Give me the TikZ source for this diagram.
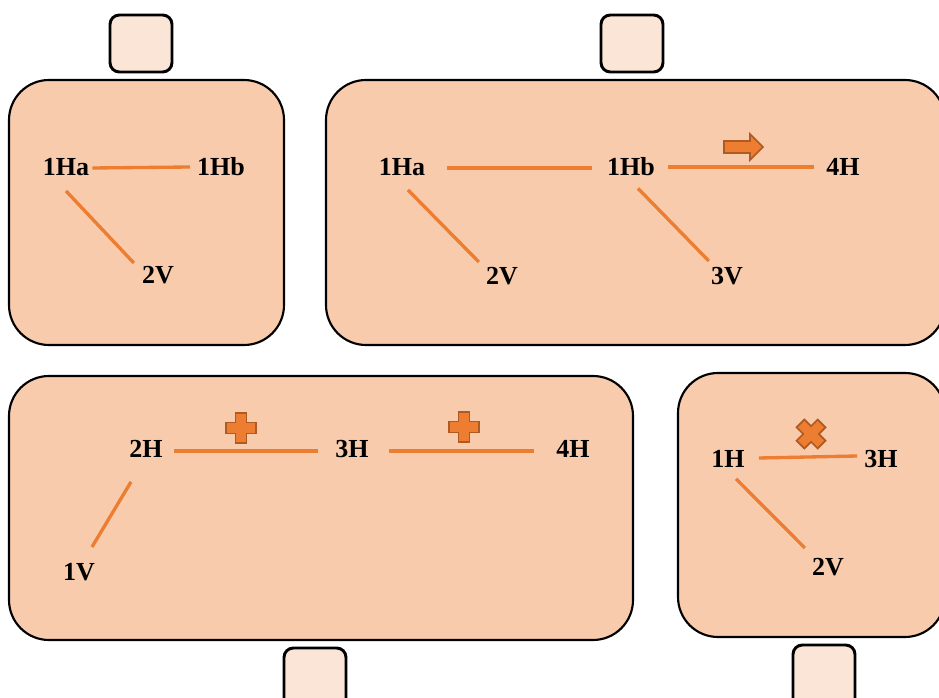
\documentclass[tikz,border=0pt]{standalone}
\usepackage{fontspec}
\setmainfont{Liberation Serif}
\usetikzlibrary{calc}
\definecolor{panelfill}{HTML}{F8CBAD}
\definecolor{tabfill}{HTML}{FBE5D6}
\definecolor{lineor}{HTML}{ED7D31}
\definecolor{darkor}{HTML}{AE5A21}
\tikzset{
  panel/.style={draw=black, line width=1.6pt, fill=panelfill, rounded corners=30pt},
  tab/.style={draw=black, line width=2.2pt, fill=tabfill, rounded corners=7pt},
  lbl/.style={inner sep=0pt, font=\fontsize{19.5}{22}\selectfont\bfseries},
  link/.style={draw=lineor, line width=2.5pt},
  symshape/.style={fill=lineor, draw=darkor, line width=1.3pt, line join=miter}
}
\newcommand{\plusmark}[2]{%
  \filldraw[symshape,shift={(#1,#2)}] (-5.5,-15)--(5.5,-15)--(5.5,-5.5)--(15,-5.5)--(15,5.5)--(5.5,5.5)--(5.5,15)--(-5.5,15)--(-5.5,5.5)--(-15,5.5)--(-15,-5.5)--(-5.5,-5.5)--cycle;}
\begin{document}
\begin{tikzpicture}[x=0.75pt,y=-0.75pt]
\useasboundingbox (0,0) rectangle (939,698);
\clip (0,0) rectangle (939,698);
% tabs
\draw[tab] (110,15) rectangle (172,72);
\draw[tab] (601,15) rectangle (663,72);
\draw[tab] (284,648) rectangle (346,712);
\draw[tab] (793,645) rectangle (855,712);
% panels
\draw[panel] (9,80) rectangle (284,345);
\draw[panel] (326,80) rectangle (945,345);
\draw[panel] (9,376) rectangle (633,640);
\draw[panel] (678,373) rectangle (945,637);
% panel 1
\node[lbl] (ha1) at (66,167) {1Ha};
\node[lbl] (hb1) at (221,167) {1Hb};
\node[lbl] (v21) at (158,275) {2V};
\draw[link] ($(ha1.east)+(3,1)$) -- ($(hb1.west)+(-7,0)$);
\draw[link] ($(ha1.south)+(0,15)$) -- ($(v21.west)+(-8,-12)$);
% panel 2
\node[lbl] (ha2) at (402,167) {1Ha};
\node[lbl] (hb2) at (631,167) {1Hb};
\node[lbl] (h42) at (843,167) {4H};
\node[lbl] (v22) at (502,276) {2V};
\node[lbl] (v32) at (727,276) {3V};
\draw[link] ($(ha2.east)+(22,1)$) -- ($(hb2.west)+(-15,1)$);
\draw[link] ($(hb2.east)+(13,0)$) -- ($(h42.west)+(-12,0)$);
\draw[link] ($(ha2.south)+(6,14)$) -- ($(v22.west)+(-7,-14)$);
\draw[link] ($(hb2.south)+(7,12)$) -- ($(v32.west)+(-2,-15)$);
\filldraw[symshape] (724,141)--(750,141)--(750,134)--(763,147)--(750,160)--(750,153)--(724,153)--cycle;
% panel 3
\node[lbl] (h23) at (146,449) {2H};
\node[lbl] (h33) at (352,449) {3H};
\node[lbl] (h43) at (573,449) {4H};
\node[lbl] (v13) at (79,572) {1V};
\draw[link] ($(h23.east)+(11,2)$) -- ($(h33.west)+(-17,2)$);
\draw[link] ($(h33.east)+(20,2)$) -- ($(h43.west)+(-22,2)$);
\draw[link] ($(h23.south)+(-15,24)$) -- ($(v13.north)+(13,-16)$);
\plusmark{241}{428}
\plusmark{464}{427}
% panel 4
\node[lbl] (h14) at (728,459) {1H};
\node[lbl] (h34) at (881,459) {3H};
\node[lbl] (v24) at (828,567) {2V};
\draw[link] ($(h14.east)+(14,-1)$) -- ($(h34.west)+(-7,-3)$);
\draw[link] ($(h14.south)+(8,11)$) -- ($(v24.west)+(-7,-19)$);
\begin{scope}[shift={(811,434)},rotate=45]
\filldraw[symshape] (-5.5,-15)--(5.5,-15)--(5.5,-5.5)--(15,-5.5)--(15,5.5)--(5.5,5.5)--(5.5,15)--(-5.5,15)--(-5.5,5.5)--(-15,5.5)--(-15,-5.5)--(-5.5,-5.5)--cycle;
\end{scope}
\end{tikzpicture}
\end{document}
